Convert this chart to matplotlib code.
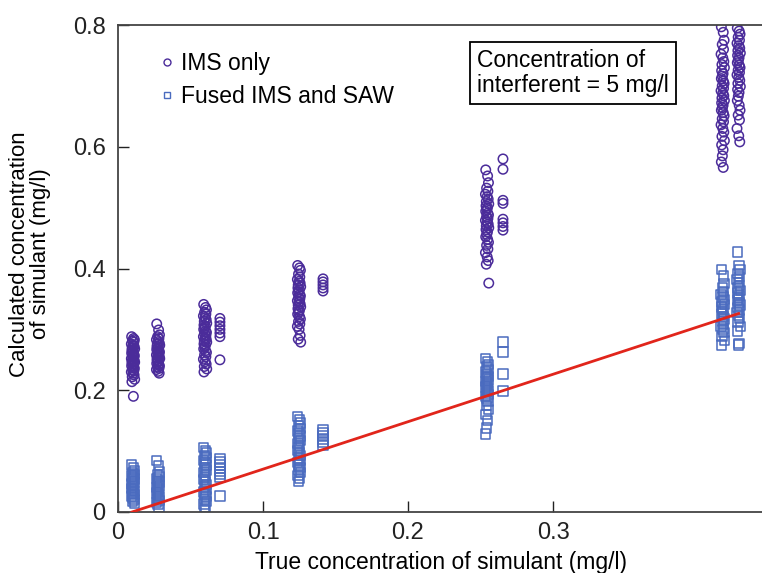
import matplotlib
matplotlib.use("Agg")
import matplotlib.pyplot as plt
from matplotlib.lines import Line2D

plt.rcParams['font.family'] = ['Liberation Sans', 'DejaVu Sans']

group_x = [0.0103, 0.0276, 0.060, 0.0703, 0.1248, 0.1414, 0.2545, 0.2655, 0.417, 0.428]
# which groups are the wide, dense ones (the others are narrow side stacks)
group_dense = [True, True, True, False, True, False, True, False, True, True]
# small spread of the repeated measurements around each group position
x_spread = [-0.0009, 0.0004, 0.0010, -0.0003, 0.0006, -0.0011, 0.0001, 0.0008,
            -0.0005, 0.0012, -0.0007, 0.0003, -0.0002]

# IMS only (circles), one list per group
ims_1 = [0.288, 0.285, 0.283, 0.281, 0.279, 0.276, 0.274, 0.272, 0.270, 0.268, 0.266, 0.264,
         0.262, 0.261, 0.259, 0.257, 0.256, 0.254, 0.252, 0.251, 0.249, 0.248, 0.246, 0.245,
         0.243, 0.241, 0.240, 0.238, 0.236, 0.234, 0.232, 0.230, 0.228, 0.225, 0.222, 0.218,
         0.214, 0.190]
ims_2 = [0.309, 0.299, 0.291, 0.288, 0.285, 0.283, 0.280, 0.278, 0.276, 0.274, 0.272, 0.270,
         0.268, 0.267, 0.265, 0.263, 0.262, 0.260, 0.258, 0.257, 0.255, 0.253, 0.252, 0.250,
         0.248, 0.246, 0.244, 0.242, 0.240, 0.238, 0.236, 0.234, 0.231, 0.228]
ims_3 = [0.341, 0.336, 0.332, 0.328, 0.325, 0.322, 0.319, 0.316, 0.313, 0.310, 0.307, 0.305,
         0.302, 0.300, 0.297, 0.295, 0.293, 0.290, 0.288, 0.286, 0.284, 0.281, 0.279, 0.276,
         0.274, 0.271, 0.268, 0.265, 0.262, 0.258, 0.255, 0.251, 0.247, 0.243, 0.239, 0.235,
         0.230]
ims_3b = [0.318, 0.312, 0.306, 0.300, 0.294, 0.288, 0.250]
ims_4 = [0.405, 0.401, 0.397, 0.391, 0.386, 0.382, 0.379, 0.376, 0.373, 0.370, 0.368, 0.365,
         0.362, 0.360, 0.357, 0.355, 0.352, 0.350, 0.347, 0.345, 0.342, 0.340, 0.337, 0.334,
         0.331, 0.328, 0.325, 0.321, 0.317, 0.313, 0.309, 0.305, 0.300, 0.290, 0.284, 0.279]
ims_4b = [0.383, 0.378, 0.373, 0.368, 0.363]
ims_5 = [0.562, 0.552, 0.541, 0.532, 0.527, 0.522, 0.518, 0.514, 0.510, 0.506, 0.503, 0.500,
         0.497, 0.494, 0.491, 0.488, 0.485, 0.482, 0.479, 0.476, 0.473, 0.470, 0.467, 0.464,
         0.460, 0.456, 0.452, 0.448, 0.443, 0.438, 0.432, 0.426, 0.419, 0.413, 0.407, 0.376]
ims_5b = [0.580, 0.563, 0.512, 0.507, 0.481, 0.475, 0.469, 0.463]
ims_6 = [0.797, 0.788, 0.775, 0.768, 0.760, 0.752, 0.746, 0.740, 0.735, 0.730, 0.725, 0.720,
         0.716, 0.712, 0.708, 0.704, 0.700, 0.696, 0.692, 0.688, 0.684, 0.680, 0.676, 0.672,
         0.668, 0.664, 0.660, 0.656, 0.651, 0.646, 0.641, 0.636, 0.630, 0.624, 0.617, 0.610,
         0.603, 0.595, 0.585, 0.575, 0.566]
ims_7 = [0.795, 0.790, 0.785, 0.780, 0.775, 0.770, 0.766, 0.762, 0.758, 0.754, 0.750, 0.746,
         0.742, 0.738, 0.734, 0.730, 0.726, 0.722, 0.718, 0.714, 0.709, 0.704, 0.699, 0.694,
         0.689, 0.683, 0.676, 0.668, 0.660, 0.652, 0.644, 0.630, 0.618, 0.608]

# Fused IMS and SAW (squares)
saw_1 = [0.077, 0.073, 0.068, 0.065, 0.062, 0.059, 0.056, 0.054, 0.051, 0.049, 0.046, 0.044,
         0.041, 0.039, 0.036, 0.034, 0.031, 0.029, 0.026, 0.024, 0.021, 0.018, 0.015]
saw_2 = [0.085, 0.076, 0.066, 0.062, 0.058, 0.055, 0.052, 0.049, 0.046, 0.043, 0.040, 0.037,
         0.034, 0.031, 0.028, 0.025, 0.022, 0.019, 0.016, 0.012, 0.008]
saw_3 = [0.106, 0.101, 0.097, 0.093, 0.089, 0.085, 0.081, 0.077, 0.073, 0.069, 0.065, 0.061,
         0.057, 0.053, 0.049, 0.045, 0.041, 0.037, 0.033, 0.029, 0.025, 0.021, 0.017, 0.013,
         0.008, 0.003]
saw_3b = [0.087, 0.082, 0.077, 0.072, 0.067, 0.062, 0.057, 0.026]
saw_4 = [0.157, 0.152, 0.146, 0.141, 0.137, 0.133, 0.129, 0.125, 0.121, 0.117, 0.113, 0.109,
         0.105, 0.101, 0.097, 0.093, 0.089, 0.085, 0.081, 0.077, 0.073, 0.069, 0.065, 0.060,
         0.055, 0.050]
saw_4b = [0.135, 0.130, 0.125, 0.120, 0.115, 0.110]
saw_5 = [0.252, 0.247, 0.242, 0.238, 0.234, 0.230, 0.226, 0.223, 0.220, 0.217, 0.214, 0.211,
         0.208, 0.205, 0.202, 0.199, 0.196, 0.193, 0.190, 0.186, 0.182, 0.175, 0.168, 0.160,
         0.150, 0.138, 0.128]
saw_5b = [0.279, 0.263, 0.227, 0.199]
saw_6 = [0.398, 0.388, 0.375, 0.368, 0.362, 0.357, 0.353, 0.349, 0.345, 0.341, 0.337, 0.333,
         0.329, 0.325, 0.321, 0.317, 0.313, 0.309, 0.305, 0.300, 0.295, 0.288, 0.282, 0.274]
saw_7 = [0.427, 0.405, 0.398, 0.392, 0.387, 0.382, 0.377, 0.372, 0.368, 0.364, 0.360, 0.356,
         0.352, 0.348, 0.344, 0.340, 0.336, 0.332, 0.328, 0.323, 0.318, 0.312, 0.305, 0.297,
         0.277, 0.274]

# ideal line
fit_x = [0.0097, 0.428]
fit_y = [0.0, 0.326]

ims_groups = [ims_1, ims_2, ims_3, ims_3b, ims_4, ims_4b, ims_5, ims_5b, ims_6, ims_7]
saw_groups = [saw_1, saw_2, saw_3, saw_3b, saw_4, saw_4b, saw_5, saw_5b, saw_6, saw_7]

ims_color = '#4b2c9a'
saw_color = '#4a6bbf'


def group_xs(x, n, dense):
    if not dense:
        return [x] * n
    return [x + x_spread[i % len(x_spread)] for i in range(n)]


fig = plt.figure(figsize=(7.62, 5.73), dpi=100)
ax = fig.add_axes([118 / 762, 1 - 512 / 573, 646 / 762, 487 / 573])

for x, ys, dense in zip(group_x, ims_groups, group_dense):
    ax.scatter(group_xs(x, len(ys), dense), ys, s=46, marker='o', facecolors='none',
               edgecolors=ims_color, linewidths=1.1, zorder=2)
for x, ys, dense in zip(group_x, saw_groups, group_dense):
    ax.scatter(group_xs(x, len(ys), dense), ys, s=46, marker='s', facecolors='none',
               edgecolors=saw_color, linewidths=1.1, zorder=2)

ax.plot(fit_x, fit_y, color='#e1251b', lw=2, zorder=3)

ax.set_xlim(0, 646 / 1450)
ax.set_ylim(0, 0.8)
ax.set_xticks([0, 0.1, 0.2, 0.3])
ax.set_xticklabels(['0', '0.1', '0.2', '0.3'])
ax.set_yticks([0, 0.2, 0.4, 0.6, 0.8])
ax.set_yticklabels(['0', '0.2', '0.4', '0.6', '0.8'])
ax.tick_params(direction='in', length=8, width=1, labelsize=17, colors='#222222')
ax.tick_params(axis='x', pad=7)
ax.tick_params(axis='y', pad=9)
for side in ['left', 'bottom', 'top']:
    ax.spines[side].set_linewidth(1.3)
    ax.spines[side].set_color('#444444')
ax.spines['right'].set_visible(False)

ax.set_xlabel('True concentration of simulant (mg/l)', fontsize=16.5, labelpad=5)
fig.text(30 / 762, 1 - 254 / 573, 'Calculated concentration\nof simulant (mg/l)',
         rotation=90, ha='center', va='center', fontsize=16, linespacing=1.0)

handles = [Line2D([], [], ls='none', marker='o', ms=5, mfc='none', mec=ims_color, mew=1),
           Line2D([], [], ls='none', marker='s', ms=5, mfc='none', mec=saw_color, mew=1)]
ax.legend(handles, ['IMS only', 'Fused IMS and SAW'], loc='upper left',
          bbox_to_anchor=(0.033, 0.987), frameon=False, fontsize=16.5,
          handlelength=0.6, handletextpad=0.3, labelspacing=0.45)

ax.text(0.556, 0.951, 'Concentration of\ninterferent = 5 mg/l', transform=ax.transAxes,
        ha='left', va='top', fontsize=16.5, linespacing=1.12,
        bbox=dict(boxstyle='square,pad=0.3', fc='white', ec='black', lw=1.3))

plt.savefig('out.png', dpi=100)
